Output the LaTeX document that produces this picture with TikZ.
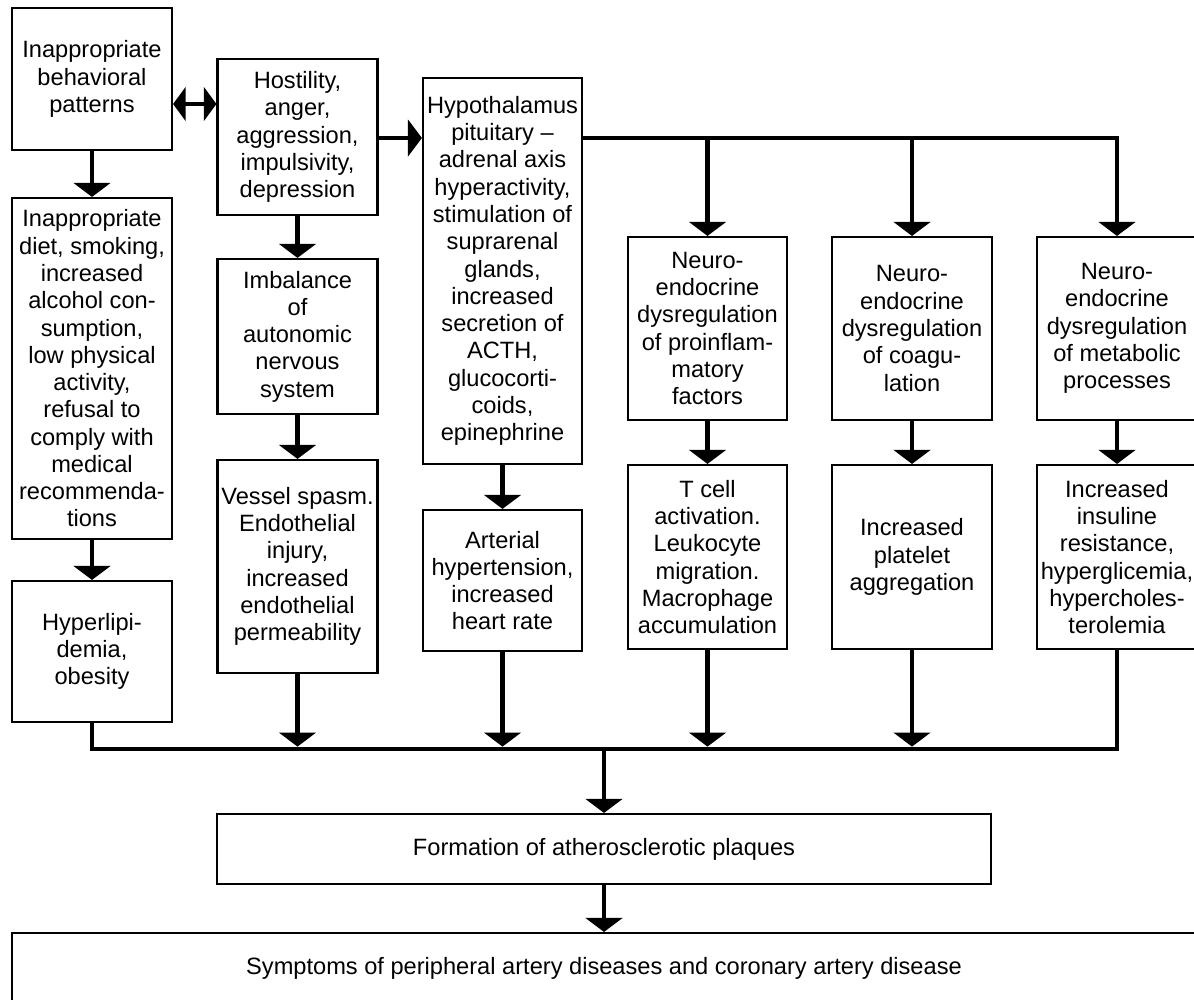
\documentclass[tikz,border=0pt]{standalone}
\usepackage{fontspec}
\setmainfont{Liberation Sans}
\usetikzlibrary{arrows.meta,calc}

\begin{document}
\begin{tikzpicture}[
            x=0.025cm,y=-0.025cm,font=\fontsize{16.8}{19.4}\selectfont,
            box/.style 2 args={draw=black, line width=1.5pt, align=center, inner sep=0pt,
                minimum width=#1*0.025cm, minimum height=#2*0.025cm},
            arr/.style={-{Triangle[length=10pt,width=26pt]}, line width=3.4pt},
            dblarr/.style={{Triangle[length=9pt,width=24pt]}-{Triangle[length=9pt,width=24pt]}, line width=3pt},
            bus/.style={line width=3.4pt}
        ]
            \useasboundingbox (0,0) rectangle (1194,999);
            \clip (0,0) rectangle (1194,999);
            \coordinate (dbl) at (0,104);
            \coordinate (busT) at (0,138);
            \coordinate (busB) at (0,749);

            % left column
            \node[box={160}{142}] (beh) at (92,79) {Inappropriate\\behavioral\\patterns};
            \node[box={160}{341}] (diet) at (92,368.5) {Inappropriate\\diet, smoking,\\increased\\alcohol con-\\sumption,\\low physical\\activity,\\refusal to\\comply with\\medical\\recommenda-\\tions};
            \node[box={160}{141}] (hyper) at (92,651.5) {Hyperlipi-\\demia,\\obesity};
            \draw[arr] (beh) -- (diet);
            \draw[arr] (diet) -- (hyper);

            % second column
            \node[box={160}{156}] (host) at (297.5,137) {Hostility,\\anger,\\aggression,\\impulsivity,\\depression};
            \node[box={160}{155}] (imbal) at (297.5,336.5) {Imbalance\\of\\autonomic\\nervous\\system};
            \node[box={160}{213}] (vessel) at (297.5,566.5) {Vessel spasm.\\Endothelial\\injury,\\increased\\endothelial\\permeability};
            \draw[dblarr] (beh.east |- dbl) -- (host.west |- dbl);
            \draw[arr] (host) -- (imbal);
            \draw[arr] (imbal) -- (vessel);

            % HPA axis
            \node[box={159}{386}] (hpa) at (502.5,271) {Hypothalamus\\pituitary --\\adrenal axis\\hyperactivity,\\stimulation of\\suprarenal\\glands,\\increased\\secretion of\\ACTH,\\glucocorti-\\coids,\\epinephrine};
            \node[box={159}{141}] (arter) at (502.5,580.5) {Arterial\\hypertension,\\increased\\heart rate};
            \draw[arr] (host.east |- busT) -- (hpa.west |- busT);
            \draw[arr] (hpa) -- (arter);

            % neuroendocrine columns
            \node[box={159}{183}] (neuroA) at (707.5,328.5) {Neuro-\\endocrine\\dysregulation\\of proinflam-\\matory\\factors};
            \node[box={159}{184}] (tcell) at (707.5,557) {T cell\\activation.\\Leukocyte\\migration.\\Macrophage\\accumulation};
            \node[box={160}{183}] (neuroB) at (912,328.5) {Neuro-\\endocrine\\dysregulation\\of coagu-\\lation};
            \node[box={160}{184}] (platel) at (912,557) {Increased\\platelet\\aggregation};
            \node[box={160}{183}] (neuroC) at (1117,328.5) {Neuro-\\endocrine\\dysregulation\\of metabolic\\processes};
            \node[box={160}{184}] (insul) at (1117,557) {Increased\\insuline\\resistance,\\hyperglicemia,\\hypercholes-\\terolemia};
            \draw[arr] (hpa.east |- busT) -| (neuroC.north);
            \foreach \n in {neuroA,neuroB} {\draw[arr] (\n.north |- busT) -- (\n.north);}
            \draw[arr] (neuroA) -- (tcell);
            \draw[arr] (neuroB) -- (platel);
            \draw[arr] (neuroC) -- (insul);

            % collecting line
            \draw[bus] (hyper.south) |- (insul.south |- busB) -- (insul.south);
            \foreach \n in {vessel,arter,tcell,platel} {\draw[arr, shorten >=1.7pt] (\n.south) -- (\n.south |- busB);}

            % outcome
            \node[box={774}{70}] (form) at (604,849) {Formation of atherosclerotic plaques};
            \node[box={1184}{70}] (sympt) at (604,968) {Symptoms of peripheral artery diseases and coronary artery disease};
            \draw[arr] (busB -| form) -- (form.north);
            \draw[arr] (form) -- (sympt);
        \end{tikzpicture}
\end{document}
